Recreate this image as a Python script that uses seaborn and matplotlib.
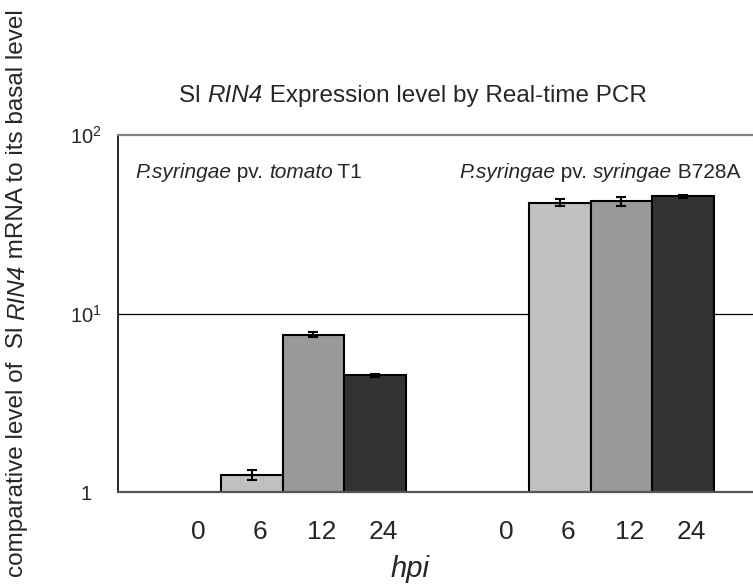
import pandas as pd
import matplotlib
matplotlib.use("Agg")
import matplotlib.pyplot as plt
import matplotlib.transforms as mtransforms
import seaborn as sns

# x slots for the bars (two strains, 4 time points each, gap between groups)
POSITIONS = [0, 1, 2, 3, 5, 6, 7, 8]
HPI = ["0", "6", "12", "24", "0", "6", "12", "24"]
# relative expression (basal level = 1, so the 0 h slots have no bar)
LEVELS = [1.0, 1.25, 7.6, 4.5, 1.0, 41.8, 42.7, 45.4]
ERRORS = [0.0, 0.08, 0.25, 0.08, 0.0, 2.0, 2.5, 0.8]

# text pieces: (string, italic?)
TITLE = [("Sl ", False), ("RIN4", True), (" Expression level by Real-time PCR", False)]
STRAIN_1 = [("P.syringae", True), (" pv. ", False), ("tomato", True), (" T1", False)]
STRAIN_2 = [("P.syringae", True), (" pv. ", False), ("syringae", True), (" B728A", False)]
YLABEL = [("comparative level of  Sl ", False), ("RIN4", True),
          (" mRNA to its basal level", False)]
COLORS = {"6": "#c0c0c0", "12": "#989998", "24": "#333333"}

sns.set_style("white")
plt.rcParams["font.family"] = ["Liberation Sans", "DejaVu Sans"]
plt.rcParams["mathtext.fontset"] = "custom"
plt.rcParams["mathtext.rm"] = "Liberation Sans"

df = pd.DataFrame({"pos": POSITIONS, "hpi": HPI, "level": LEVELS, "err": ERRORS})
bars = df[df["hpi"] != "0"]

W, H = 753, 584
fig = plt.figure(figsize=(W / 100, H / 100), dpi=100)
ax = fig.add_axes([118 / W, 1 - 492 / H, (760 - 118) / W, (492 - 135) / H])

sns.barplot(data=bars, x="pos", y="level", hue="hpi", hue_order=["6", "12", "24"],
            palette=COLORS, native_scale=True, dodge=False, width=1.0,
            errorbar=None, edgecolor="black", linewidth=1.5, legend=False, ax=ax)
ax.errorbar(bars["pos"], bars["level"], yerr=bars["err"], fmt="none",
            ecolor="black", elinewidth=1.5, capsize=3.5, capthick=1.5)

ax.set_yscale("log")
ax.set_ylim(1, 100)
ax.set_xlim(-1.17, 9.25)
ax.set_yticks([1, 10, 100])
ax.set_yticklabels(["1", r"10$^1$", r"10$^2$"], ha="center")
ax.minorticks_off()
ax.tick_params(axis="y", length=0, pad=23, labelsize=14.5)
ax.set_xticks(POSITIONS)
ax.set_xticklabels(HPI)
ax.tick_params(axis="x", length=0, pad=20, labelsize=19)
shift = mtransforms.ScaledTranslation(8 / 100, 0, fig.dpi_scale_trans)
for lab in ax.get_xticklabels():
    lab.set_transform(lab.get_transform() + shift)
ax.set_xlabel("")
ax.set_ylabel("")

ax.axhline(10, color="black", lw=0.9, zorder=0)
ax.spines["right"].set_visible(False)
ax.spines["left"].set_color("black")
ax.spines["left"].set_linewidth(1.2)
ax.spines["top"].set_color("#808080")
ax.spines["top"].set_linewidth(1.6)
ax.spines["bottom"].set_color("#555555")
ax.spines["bottom"].set_linewidth(1.6)


# write mixed upright / italic text as a chain of pieces
def rich_text(x, y, parts, size, align="left", rotation=0):
    texts = []
    for i, (s, it) in enumerate(parts):
        style = "italic" if it else "normal"
        if i == 0:
            t = fig.text(x / W, 1 - y / H, s, fontsize=size, style=style,
                         ha="left", va="bottom", rotation=rotation)
        elif rotation == 0:
            t = ax.annotate(s, xy=(1, 0), xycoords=texts[-1], fontsize=size,
                            style=style, ha="left", va="bottom")
        else:
            t = ax.annotate(s, xy=(0, 1), xycoords=texts[-1], fontsize=size,
                            style=style, ha="left", va="bottom", rotation=rotation)
        texts.append(t)
    if align == "center":
        fig.canvas.draw()
        r = fig.canvas.get_renderer()
        boxes = [t.get_window_extent(r) for t in texts]
        if rotation == 0:
            width = boxes[-1].x1 - boxes[0].x0
            texts[0].set_x((x - width / 2) / W)
        else:
            length = boxes[-1].y1 - boxes[0].y0
            thick = boxes[0].width
            texts[0].set_x((x - thick / 2) / W)
            texts[0].set_y(1 - (y + length / 2) / H)
    return texts


rich_text(413, 107, TITLE, 17.5, align="center")
rich_text(135, 182, STRAIN_1, 15)
rich_text(459, 182, STRAIN_2, 15)
rich_text(17, 293, YLABEL, 17.5, align="center", rotation=90)
fig.text(410 / W, 1 - 569 / H, "hpi", style="italic", ha="center", va="center",
         fontsize=21)

fig.savefig("out.png", dpi=100)
